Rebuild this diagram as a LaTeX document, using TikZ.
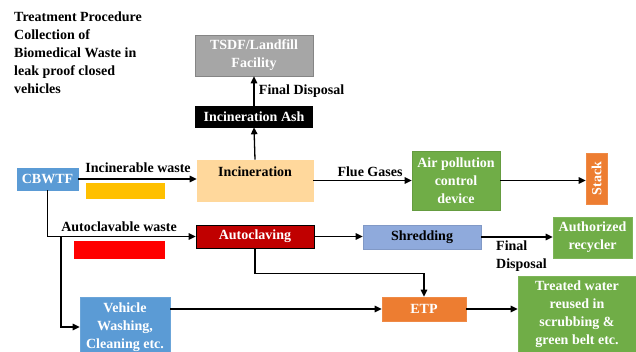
\documentclass[tikz,border=0pt]{standalone}
\usepackage{fontspec}
\setmainfont{Liberation Serif}
\usepackage{xcolor}
\usepackage{tikz}
\usetikzlibrary{arrows.meta}
\definecolor{ashgray}{HTML}{A6A6A6}
\definecolor{incpeach}{HTML}{FFD89C}
\definecolor{cbblue}{HTML}{5B9BD5}
\definecolor{apcgreen}{HTML}{70AD47}
\definecolor{stackorange}{HTML}{ED7D31}
\definecolor{autored}{HTML}{C00000}
\definecolor{shredblue}{HTML}{8FAADC}
\definecolor{swatchyellow}{HTML}{FFC000}

\begin{document}
\begin{tikzpicture}[x=1pt,y=-1pt]
  \tikzstyle{every node}=[font=\bfseries\fontsize{14}{18}\selectfont]
  \tikzstyle{box}=[draw, align=center, inner sep=1pt, line width=.6pt] % all boxes
  \tikzstyle{wbox}=[box, text=white] % white text boxes
  \tikzstyle{flow}=[-{Triangle[length=7pt,width=6.5pt]}, line width=1.3pt] % connectors
  \useasboundingbox (0,0) rectangle (636,352);
  % title
  \node[anchor=north west, align=left, inner sep=0pt] (title) at (14,11.5)
    {Treatment Procedure\\Collection of\\Biomedical Waste in\\leak proof closed\\vehicles};
  % boxes
  \node[wbox, fill=ashgray, draw=ashgray!80!black, minimum width=118, minimum height=41] (tsdf) at (254,55.5) {TSDF/Landfill\\Facility};
  \node[wbox, fill=black, minimum width=117, minimum height=21] (ash) at (254,116.5) {Incineration Ash};
  \node[box, fill=incpeach, draw=incpeach, minimum width=116, minimum height=41] (inc) at (255,180.5) {Incineration\\ };
  \node[wbox, fill=cbblue, draw=cbblue, minimum width=61, minimum height=22] (cbwtf) at (47.5,179) {CBWTF};
  \node[wbox, fill=apcgreen, draw=apcgreen!90!black, minimum width=88, minimum height=59] (apc) at (456,180.5) {Air pollution\\control\\device};
  \node[wbox, fill=stackorange, draw=stackorange!90!white, rotate=90, minimum width=51, minimum height=21] (stack) at (596.5,178.5) {Stack};
  \node[wbox, fill=autored, draw=black, minimum width=118, minimum height=23] (autocl) at (255,236.5) {Autoclaving};
  \node[box, fill=shredblue, draw=shredblue!90!black, minimum width=118, minimum height=24] (shred) at (422,237) {Shredding};
  \node[wbox, fill=apcgreen, draw=apcgreen!90!white, minimum width=79, minimum height=41] (recyc) at (592.5,237.5) {Authorized\\recycler};
  \node[wbox, fill=cbblue, draw=cbblue!90!white, minimum width=90, minimum height=60] (veh) at (125,327) {Vehicle\\Washing,\\Cleaning etc.};
  \node[wbox, fill=stackorange, draw=stackorange!90!white, minimum width=84, minimum height=24] (etp) at (424,309) {ETP};
  \node[wbox, fill=apcgreen, draw=apcgreen!90!white, minimum width=118, minimum height=76] (water) at (577,314) {Treated water\\reused in\\scrubbing \&\\green belt etc.};
  % colour swatches
  \fill[swatchyellow] (86,183) rectangle (165,199);
  \fill[red] (74,241) rectangle (165,259);
  % connectors
  \draw[flow] (inc.north) -- (ash.south);
  \draw[flow] (ash.north) -- (tsdf.south) node[midway, right, xshift=1pt] (fd1) {Final Disposal};
  \draw[flow] (cbwtf.east) -- (cbwtf.east -| inc.west);
  \node (incw) at (138,168) {Incinerable waste};
  \draw[flow] (inc.east |- apc.west) -- (apc.west);
  \node (flue) at (370,172) {Flue Gases};
  \draw[flow] (apc.east) -- (apc.east -| stack.north);
  \draw[flow] (cbwtf.south) |- (autocl.west);
  \node (autow) at (119,227) {Autoclavable waste};
  \coordinate (br) at (61,236.5);
  \draw[flow] (br) |- (veh.west);
  \draw[flow] (autocl.east) -- (autocl.east -| shred.west);
  \draw[flow] (shred.east) -- (shred.east -| recyc.west);
  \node[anchor=west, align=left, inner sep=0pt] (fd2) at (496,256) {Final\\Disposal};
  \draw[flow] (autocl.south) -- ++(0,25) -| (etp.north);
  \draw[flow] (etp.west -| veh.east) -- (etp.west);
  \draw[flow] (etp.east) -- (etp.east -| water.west);
\end{tikzpicture}
\end{document}
